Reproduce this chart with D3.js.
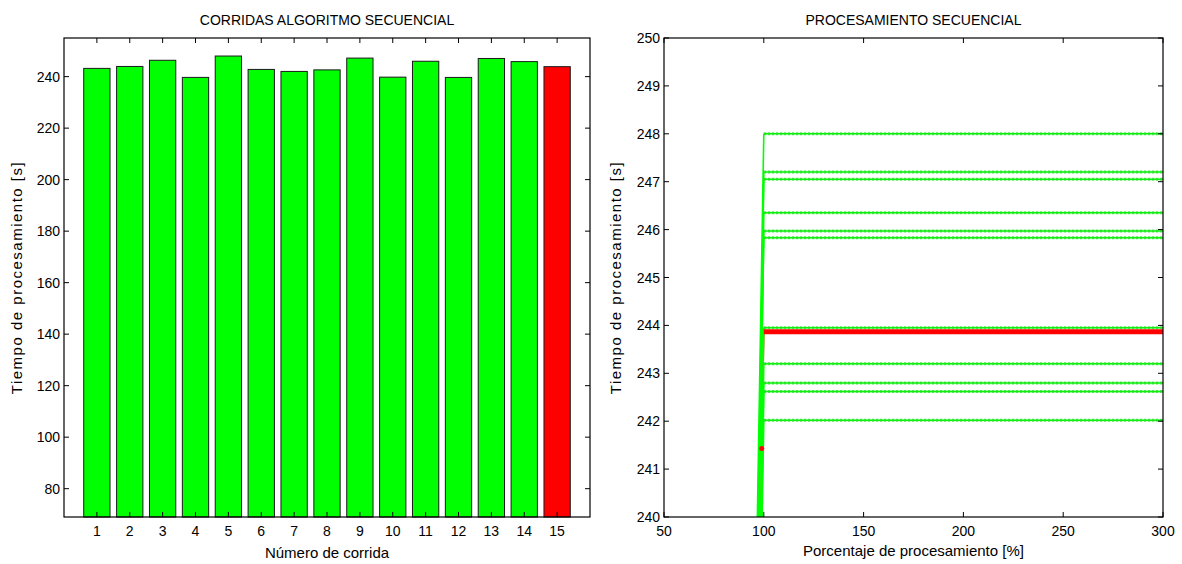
<!DOCTYPE html>
<html>
<head>
<meta charset="utf-8">
<script src="https://cdn.jsdelivr.net/npm/d3@7"></script>
<style>
  body { margin: 0; background: #fff; }
  svg text { font-family: "Liberation Sans", Arial, sans-serif; fill: #000; }
</style>
</head>
<body>
<svg id="chart" width="1182" height="564"></svg>
<script>
// Datos: tiempo de cada corrida [s] (la 15 es el promedio, en rojo)
const corridas = ["1", "2", "3", "4", "5", "6", "7", "8", "9", "10", "11", "12", "13", "14", "15"];
const tiempos = [243.20, 243.95, 246.35, 239.70, 248.00, 242.80, 242.02, 242.62, 247.20, 239.80, 245.97, 239.69, 247.05, 245.83, 243.87];
const coloresBarra = ["#00ff00", "#00ff00", "#00ff00", "#00ff00", "#00ff00", "#00ff00", "#00ff00", "#00ff00", "#00ff00", "#00ff00", "#00ff00", "#00ff00", "#00ff00", "#00ff00", "#ff0000"];

// Eje y del grafico de barras
const ticksBarras = [80, 100, 120, 140, 160, 180, 200, 220, 240];
const limitesBarras = [69, 255];

// Grafico de la derecha: porcentaje de procesamiento
const porcentajes = [0, 100, 300];
const ticksPorcentaje = [50, 100, 150, 200, 250, 300];
const ticksTiempo = [240, 241, 242, 243, 244, 245, 246, 247, 248, 249, 250];
const puntoRojo = [99, 241.43];

const svg = d3.select("#chart");
const yTop = 38, yBottom = 517;
const tick = 5;

// ---------- Grafico izquierdo: barras ----------
const left1 = 64, right1 = 590;
const xb = d3.scaleLinear().domain([0, 16]).range([left1, right1]);
const yb = d3.scaleLinear().domain(limitesBarras).range([yBottom, yTop]);

const g1 = svg.append("g");
g1.selectAll("rect.bar")
  .data(tiempos)
  .join("rect")
  .attr("class", "bar")
  .attr("x", (d, i) => xb(i + 1 - 0.4))
  .attr("width", xb(0.8) - xb(0))
  .attr("y", d => yb(d))
  .attr("height", d => yb(limitesBarras[0]) - yb(d))
  .attr("fill", (d, i) => coloresBarra[i])
  .attr("stroke", "#1a1a1a")
  .attr("stroke-width", 1);

function marco(g, l, r) {
  g.append("rect")
    .attr("x", l).attr("y", yTop)
    .attr("width", r - l).attr("height", yBottom - yTop)
    .attr("fill", "none").attr("stroke", "#000").attr("stroke-width", 1.2);
}

marco(g1, left1, right1);

// ticks x (abajo y arriba, hacia adentro)
corridas.forEach((c, i) => {
  const x = xb(i + 1);
  g1.append("line").attr("x1", x).attr("x2", x).attr("y1", yBottom).attr("y2", yBottom - tick).attr("stroke", "#000");
  g1.append("line").attr("x1", x).attr("x2", x).attr("y1", yTop).attr("y2", yTop + tick).attr("stroke", "#000");
  g1.append("text").attr("x", x).attr("y", yBottom + 19).attr("text-anchor", "middle")
    .attr("font-size", 14).text(c);
});
ticksBarras.forEach(t => {
  const y = yb(t);
  g1.append("line").attr("x1", left1).attr("x2", left1 + tick).attr("y1", y).attr("y2", y).attr("stroke", "#000");
  g1.append("line").attr("x1", right1).attr("x2", right1 - tick).attr("y1", y).attr("y2", y).attr("stroke", "#000");
  g1.append("text").attr("x", left1 - 4).attr("y", y + 5).attr("text-anchor", "end")
    .attr("font-size", 14).text(t);
});

g1.append("text").attr("x", (left1 + right1) / 2).attr("y", 25).attr("text-anchor", "middle")
  .attr("font-size", 14).text("CORRIDAS ALGORITMO SECUENCIAL");
g1.append("text").attr("x", (left1 + right1) / 2).attr("y", 558).attr("text-anchor", "middle")
  .attr("font-size", 15).text("Número de corrida");
g1.append("text").attr("transform", `translate(22,${(yTop + yBottom) / 2}) rotate(-90)`)
  .attr("text-anchor", "middle").attr("font-size", 15).attr("letter-spacing", 1.5)
  .text("Tiempo de procesamiento [s]");

// ---------- Grafico derecho: procesamiento secuencial ----------
const left2 = 664, right2 = 1163;
const xp = d3.scaleLinear().domain([50, 300]).range([left2, right2]);
const yp = d3.scaleLinear().domain([240, 250]).range([yBottom, yTop]);

const g2 = svg.append("g");
svg.append("defs").append("clipPath").attr("id", "clip2")
  .append("rect").attr("x", left2).attr("y", yTop).attr("width", right2 - left2).attr("height", yBottom - yTop);

const plot = g2.append("g").attr("clip-path", "url(#clip2)");
const linea = d3.line().x(d => xp(d[0])).y(d => yp(d[1]));
const serie = v => porcentajes.map((p, i) => [p, i === 0 ? 0 : v]);

const verdes = tiempos.slice(0, 14);
const promedio = tiempos[14];

// rampa roja (debajo)
plot.append("path").attr("d", linea(serie(promedio).slice(0, 2)))
  .attr("fill", "none").attr("stroke", "#ff0000").attr("stroke-width", 1.5);

// rampas verdes
verdes.forEach(v => {
  plot.append("path").attr("d", linea(serie(v).slice(0, 2)))
    .attr("fill", "none").attr("stroke", "#00ff00").attr("stroke-width", 1.6);
});
// tramos horizontales verdes (linea + marcadores punteados)
verdes.forEach(v => {
  const tramo = serie(v).slice(1);
  plot.append("path").attr("d", linea(tramo))
    .attr("fill", "none").attr("stroke", "#00ff00").attr("stroke-width", 1.5);
  plot.append("path").attr("d", linea(tramo))
    .attr("fill", "none").attr("stroke", "#22dd22").attr("stroke-width", 3)
    .attr("stroke-dasharray", "2.5,1.5").attr("opacity", 0.75);
});
// promedio en rojo
plot.append("path").attr("d", linea(serie(promedio).slice(1)))
  .attr("fill", "none").attr("stroke", "#ff0000").attr("stroke-width", 5);
plot.append("circle").attr("cx", xp(puntoRojo[0])).attr("cy", yp(puntoRojo[1]))
  .attr("r", 2.5).attr("fill", "#ff0000");

marco(g2, left2, right2);

ticksPorcentaje.forEach(t => {
  const x = xp(t);
  g2.append("line").attr("x1", x).attr("x2", x).attr("y1", yBottom).attr("y2", yBottom - tick).attr("stroke", "#000");
  g2.append("line").attr("x1", x).attr("x2", x).attr("y1", yTop).attr("y2", yTop + tick).attr("stroke", "#000");
  g2.append("text").attr("x", x).attr("y", yBottom + 19).attr("text-anchor", "middle")
    .attr("font-size", 14).text(t);
});
ticksTiempo.forEach(t => {
  const y = yp(t);
  g2.append("line").attr("x1", left2).attr("x2", left2 + tick).attr("y1", y).attr("y2", y).attr("stroke", "#000");
  g2.append("line").attr("x1", right2).attr("x2", right2 - tick).attr("y1", y).attr("y2", y).attr("stroke", "#000");
  g2.append("text").attr("x", left2 - 4).attr("y", y + 5).attr("text-anchor", "end")
    .attr("font-size", 14).text(t);
});

g2.append("text").attr("x", (left2 + right2) / 2).attr("y", 25).attr("text-anchor", "middle")
  .attr("font-size", 14).text("PROCESAMIENTO SECUENCIAL");
g2.append("text").attr("x", (left2 + right2) / 2).attr("y", 556).attr("text-anchor", "middle")
  .attr("font-size", 15).text("Porcentaje de procesamiento [%]");
g2.append("text").attr("transform", `translate(621,${(yTop + yBottom) / 2}) rotate(-90)`)
  .attr("text-anchor", "middle").attr("font-size", 15).attr("letter-spacing", 1.5)
  .text("Tiempo de procesamiento [s]");
</script>
</body>
</html>
